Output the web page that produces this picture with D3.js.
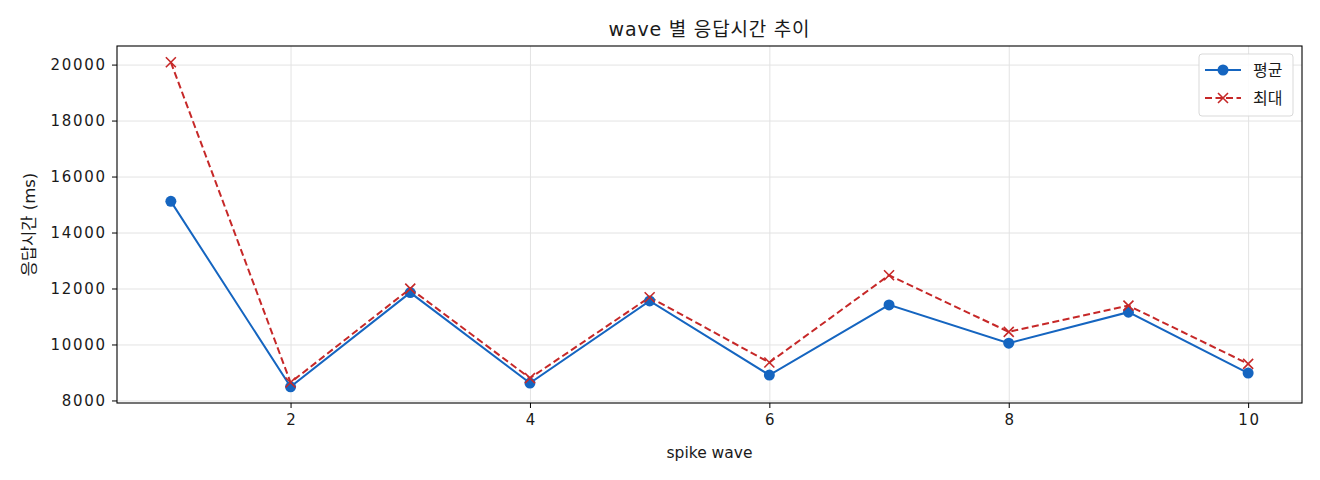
<!DOCTYPE html>
<html>
<head>
<meta charset="utf-8">
<script src="https://cdn.jsdelivr.net/npm/d3@7"></script>
<style>
  body { margin: 0; background: #fff; }
  text { font-family: "DejaVu Sans", "Noto Sans CJK KR", sans-serif; fill: #1a1a1a; }
  .grid line { stroke: #e3e3e3; stroke-width: 1; }
  .grid path { display: none; }
  .axis path, .axis line { stroke: #000; }
</style>
</head>
<body>
<div id="chart"></div>
<script>
// data
var waves = [1, 2, 3, 4, 5, 6, 7, 8, 9, 10];
var avgMs = [15114, 8489, 11853, 8620, 11557, 8906, 11414, 10048, 11154, 8977];
var maxMs = [20084, 8642, 11996, 8799, 11689, 9356, 12474, 10451, 11389, 9309];
var yTicks = [8000, 10000, 12000, 14000, 16000, 18000, 20000];
var xTicks = [2, 4, 6, 8, 10];

var W = 1320, H = 480;
var margin = { top: 46, right: 18, bottom: 77, left: 117 },
    width = W - margin.left - margin.right,
    height = H - margin.top - margin.bottom;

var svg = d3.select("#chart")
    .append("svg")
    .attr("width", W)
    .attr("height", H)
    .append("g")
    .attr("transform", "translate(" + margin.left + "," + margin.top + ")");

// matplotlib style 5% padding
var xPad = (d3.max(waves) - d3.min(waves)) * 0.05;
var x = d3.scaleLinear()
    .domain([d3.min(waves) - xPad, d3.max(waves) + xPad])
    .range([0, width]);

var yMin = d3.min(avgMs.concat(maxMs)), yMax = d3.max(avgMs.concat(maxMs));
var yPad = (yMax - yMin) * 0.05;
var y = d3.scaleLinear()
    .domain([yMin - yPad, yMax + yPad])
    .range([height, 0]);

// gridlines
svg.append("g")
    .attr("class", "grid")
    .attr("transform", "translate(0," + height + ")")
    .call(d3.axisBottom(x).tickValues(xTicks).tickSize(-height).tickFormat(""));
svg.append("g")
    .attr("class", "grid")
    .call(d3.axisLeft(y).tickValues(yTicks).tickSize(-width).tickFormat(""));

// frame
svg.append("rect")
    .attr("width", width)
    .attr("height", height)
    .attr("fill", "none")
    .attr("stroke", "#000")
    .attr("stroke-width", 1.1);

// axes
var xAxis = svg.append("g")
    .attr("class", "axis")
    .attr("transform", "translate(0," + height + ")")
    .call(d3.axisBottom(x).tickValues(xTicks).tickSize(5).tickPadding(6).tickFormat(d3.format("d")));
var yAxis = svg.append("g")
    .attr("class", "axis")
    .call(d3.axisLeft(y).tickValues(yTicks).tickSize(5).tickPadding(7).tickFormat(d3.format("d")));
svg.selectAll(".axis .domain").remove();
svg.selectAll(".axis text")
    .style("font-size", "15px")
    .style("letter-spacing", "1.7px")
    .attr("fill", "#1a1a1a");
// letter-spacing leaves a trailing gap, nudge it back
xAxis.selectAll("text").attr("dx", "0.85px");
yAxis.selectAll("text").attr("dx", "1.7px");

// lines
var line = function (vals) {
    return d3.line()
        .x(function (d, i) { return x(waves[i]); })
        .y(function (d) { return y(d); })(vals);
};

var blue = "#1565c0", red = "#c62828";
var xGlyph = "M-5,-5L5,5M-5,5L5,-5";

svg.append("path")
    .attr("d", line(avgMs))
    .attr("fill", "none")
    .attr("stroke", blue)
    .attr("stroke-width", 2);

svg.append("path")
    .attr("d", line(maxMs))
    .attr("fill", "none")
    .attr("stroke", red)
    .attr("stroke-width", 2)
    .attr("stroke-dasharray", "7,3.5");

svg.selectAll(".dot")
    .data(avgMs)
    .enter()
    .append("circle")
    .attr("class", "dot")
    .attr("cx", function (d, i) { return x(waves[i]); })
    .attr("cy", function (d) { return y(d); })
    .attr("r", 5.5)
    .attr("fill", blue);

svg.selectAll(".xmark")
    .data(maxMs)
    .enter()
    .append("path")
    .attr("class", "xmark")
    .attr("d", xGlyph)
    .attr("transform", function (d, i) { return "translate(" + x(waves[i]) + "," + y(d) + ")"; })
    .attr("fill", "none")
    .attr("stroke", red)
    .attr("stroke-width", 1.6);

// title and labels
svg.append("text")
    .attr("x", width / 2)
    .attr("y", -10)
    .attr("text-anchor", "middle")
    .style("font-size", "19px")
    .style("letter-spacing", "0.8px")
    .text("wave 별 응답시간 추이");

svg.append("text")
    .attr("x", width / 2)
    .attr("y", height + 55)
    .attr("text-anchor", "middle")
    .style("font-size", "15.5px")
    .text("spike wave");

svg.append("text")
    .attr("transform", "rotate(-90)")
    .attr("x", -height / 2)
    .attr("y", -82)
    .attr("text-anchor", "middle")
    .style("font-size", "16.5px")
    .text("응답시간 (ms)");

// legend
var legend = svg.append("g")
    .attr("transform", "translate(" + (width - 103) + ",8)");
legend.append("rect")
    .attr("width", 94)
    .attr("height", 62)
    .attr("rx", 3)
    .attr("fill", "#fff")
    .attr("fill-opacity", 0.85)
    .attr("stroke", "#d9d9d9");

var items = [
    { name: "평균", color: blue, dash: null, marker: "circle" },
    { name: "최대", color: red, dash: "7,3.5", marker: "x" }
];
items.forEach(function (it, i) {
    var gy = 16 + i * 28;
    var g = legend.append("g").attr("transform", "translate(0," + gy + ")");
    g.append("line")
        .attr("x1", 6).attr("x2", 42)
        .attr("stroke", it.color)
        .attr("stroke-width", 2)
        .attr("stroke-dasharray", it.dash);
    if (it.marker === "circle") {
        g.append("circle").attr("cx", 24).attr("r", 5.5).attr("fill", it.color);
    } else {
        g.append("path").attr("d", xGlyph).attr("transform", "translate(24,0)")
            .attr("fill", "none").attr("stroke", it.color).attr("stroke-width", 1.6);
    }
    g.append("text")
        .attr("x", 54)
        .attr("y", 6)
        .style("font-size", "16px")
        .text(it.name);
});
</script>
</body>
</html>
